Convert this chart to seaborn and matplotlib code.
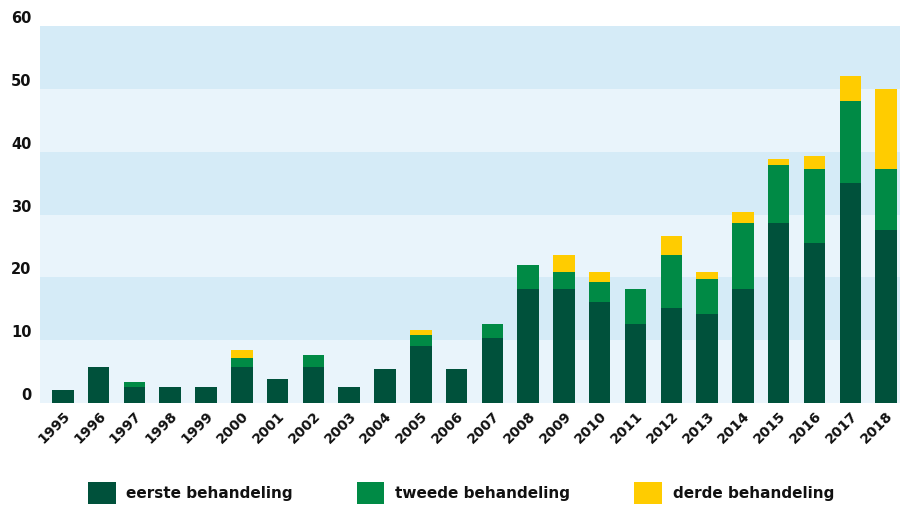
import matplotlib
matplotlib.use("Agg")

import pandas as pd
import matplotlib.pyplot as plt
import seaborn as sns
from matplotlib.patches import Patch

# ==========================================================
# DATA
# ==========================================================

years = ["1995", "1996", "1997", "1998", "1999", "2000", "2001", "2002",
         "2003", "2004", "2005", "2006", "2007", "2008", "2009", "2010",
         "2011", "2012", "2013", "2014", "2015", "2016", "2017", "2018"]

eerste = [2.1, 5.7, 2.6, 2.6, 2.6, 5.7, 3.9, 5.7, 2.6, 5.4, 9.0, 5.4,
          10.4, 18.1, 18.1, 16.0, 12.5, 15.1, 14.2, 18.1, 28.6, 25.5, 35.0, 27.5]

tweede = [0, 0, 0.8, 0, 0, 1.5, 0, 2.0, 0, 0, 1.9, 0,
          2.1, 3.9, 2.8, 3.3, 5.6, 8.5, 5.5, 10.5, 9.3, 11.7, 13.1, 9.7]

derde = [0, 0, 0, 0, 0, 1.3, 0, 0, 0, 0, 0.7, 0,
         0, 0, 2.7, 1.6, 0, 3.0, 1.2, 1.8, 0.9, 2.1, 4.0, 12.8]

labels = ["eerste behandeling", "tweede behandeling", "derde behandeling"]

y_ticks = [0, 10, 20, 30, 40, 50, 60]

# ==========================================================
# STYLE
# ==========================================================

C1 = "#00513b"
C2 = "#008a45"
C3 = "#ffcc00"
BAND_LIGHT = "#e9f4fb"
BAND_DARK = "#d5ebf7"
TEXT = "#111111"

sns.set_style("white")
plt.rcParams["font.family"] = ["DejaVu Sans"]
plt.rcParams["text.color"] = TEXT
plt.rcParams["xtick.color"] = TEXT
plt.rcParams["ytick.color"] = TEXT

df = pd.DataFrame({"jaar": years, "eerste": eerste, "tweede": tweede, "derde": derde})
df["tot2"] = df["eerste"] + df["tweede"]
df["tot3"] = df["tot2"] + df["derde"]

# ==========================================================
# PLOT
# ==========================================================

fig = plt.figure(figsize=(9, 5.07), dpi=100)
ax = fig.add_axes([0.0444, 0.2051, 0.9556, 0.7436])

ax.set_facecolor(BAND_LIGHT)
for lo in y_ticks[1::2]:
    ax.axhspan(lo, lo + 10, color=BAND_DARK, lw=0, zorder=0)

# stacked look: draw the totals first, then the lower parts over them
sns.barplot(data=df, x="jaar", y="tot3", color=C3, width=0.6, linewidth=0,
            saturation=1, errorbar=None, ax=ax, zorder=3)
sns.barplot(data=df, x="jaar", y="tot2", color=C2, width=0.6, linewidth=0,
            saturation=1, errorbar=None, ax=ax, zorder=4)
sns.barplot(data=df, x="jaar", y="eerste", color=C1, width=0.6, linewidth=0,
            saturation=1, errorbar=None, ax=ax, zorder=5)

ax.set_xlim(-0.64, 23.39)
ax.set_ylim(0, 60)
ax.set_yticks(y_ticks)
ax.set_xlabel("")
ax.set_ylabel("")

for s in ax.spines.values():
    s.set_visible(False)

ax.tick_params(axis="both", length=0, colors=TEXT)
ax.tick_params(axis="y", pad=6)
ax.tick_params(axis="x", pad=4)

for lab in ax.get_yticklabels():
    lab.set_fontweight("bold")
    lab.set_fontsize(10.5)
    lab.set_verticalalignment("bottom")

plt.setp(ax.get_xticklabels(), rotation=45, ha="right",
         rotation_mode="anchor", fontweight="bold", fontsize=10)

# ==========================================================
# LEGEND
# ==========================================================

handles = [Patch(facecolor=c, edgecolor="none") for c in (C1, C2, C3)]

fig.legend(handles, labels, loc="center left",
           bbox_to_anchor=(88 / 900, 14 / 507), ncol=3, frameon=False,
           prop={"weight": "bold", "size": 11},
           handlelength=1.8, handleheight=1.8, handletextpad=0.7,
           columnspacing=4.2, borderpad=0, borderaxespad=0)

fig.savefig("out.png", dpi=100)
